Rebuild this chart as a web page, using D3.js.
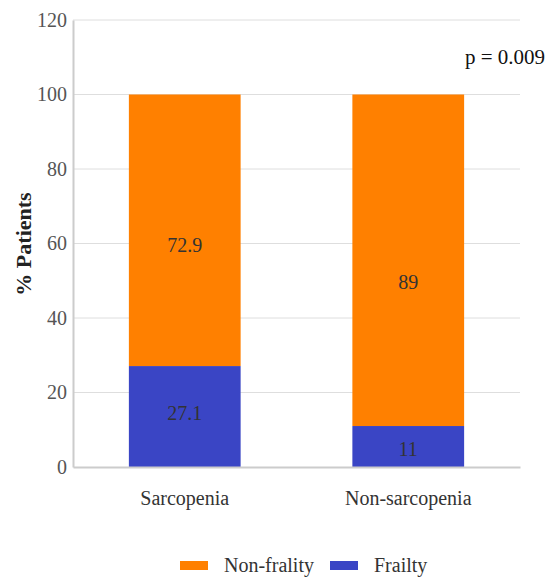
<!DOCTYPE html>
<html>
<head>
<meta charset="utf-8">
<script src="https://cdn.jsdelivr.net/npm/d3@7"></script>
<style>
  body { margin: 0; background: #fff; }
  svg { display: block; }
  svg text { font-family: "Liberation Serif", Tinos, "Times New Roman", Times, "DejaVu Serif", serif; }
</style>
</head>
<body>
<svg id="chart" width="553" height="577"></svg>
<script>
const categories = ["Sarcopenia", "Non-sarcopenia"];
const seriesNames = ["Frailty", "Non-frality"];
const frailty = [27.1, 11];
const nonFrailty = [72.9, 89];
const frailtyLabelAt = [14.5, 4.8];
const nonFrailtyLabelAt = [59.5, 49.7];
const yTicks = [0, 20, 40, 60, 80, 100, 120];
const pValueText = "p = 0.009";
const colors = { "Frailty": "#3A45C5", "Non-frality": "#FF8000" };

const FONT = "'Liberation Serif', Tinos, 'Times New Roman', Times, 'DejaVu Serif', serif";
const svg = d3.select("#chart");
const margin = { left: 73, right: 33, top: 20, bottom: 110 };
const W = 553, H = 577;
const x = d3.scaleBand().domain(categories).range([margin.left, W - margin.right]).paddingInner(0.5).paddingOuter(0.25);
const y = d3.scaleLinear().domain([0, 120]).range([H - margin.bottom, margin.top]);

// gridlines
svg.append("g").selectAll("line").data(yTicks.filter(t => t > 0)).join("line")
  .attr("x1", margin.left).attr("x2", W - margin.right)
  .attr("y1", d => y(d)).attr("y2", d => y(d))
  .attr("stroke", "#dedede").attr("stroke-width", 1);

// stacked data
const rows = categories.map((c, i) => ({ cat: c, "Frailty": frailty[i], "Non-frality": nonFrailty[i] }));
const stack = d3.stack().keys(seriesNames)(rows);
svg.append("g").selectAll("g").data(stack).join("g")
  .attr("fill", d => colors[d.key])
  .selectAll("rect").data(d => d).join("rect")
  .attr("x", d => x(d.data.cat))
  .attr("width", x.bandwidth())
  .attr("y", d => y(d[1]))
  .attr("height", d => y(d[0]) - y(d[1]));

// value labels
const labels = [];
categories.forEach((c, i) => {
  labels.push({ cat: c, v: frailty[i], at: frailtyLabelAt[i] });
  labels.push({ cat: c, v: nonFrailty[i], at: nonFrailtyLabelAt[i] });
});
svg.append("g").selectAll("text").data(labels).join("text")
  .attr("x", d => x(d.cat) + x.bandwidth() / 2)
  .attr("y", d => y(d.at))
  .attr("dy", "0.35em")
  .attr("text-anchor", "middle")
  .attr("font-family", FONT)
  .attr("font-size", 20)
  .attr("fill", "#333")
  .text(d => d.v);

// y axis
const yAxis = svg.append("g").attr("transform", `translate(${margin.left},0)`)
  .call(d3.axisLeft(y).tickValues(yTicks).tickSize(0).tickPadding(6));
yAxis.attr("font-family", FONT);
yAxis.select(".domain").attr("stroke", "#cccccc").attr("stroke-width", 2);
yAxis.selectAll("text").attr("font-size", 20).attr("fill", "#555").attr("font-family", FONT);

// x axis
const xAxis = svg.append("g").attr("transform", `translate(0,${y(0)})`)
  .call(d3.axisBottom(x).tickSize(0).tickPadding(24));
xAxis.attr("font-family", FONT);
xAxis.select(".domain").attr("stroke", "#cccccc").attr("stroke-width", 2);
xAxis.selectAll("text").attr("font-size", 20).attr("fill", "#333").attr("font-family", FONT);

// y title
svg.append("text")
  .attr("transform", `translate(31,${244}) rotate(-90)`)
  .attr("text-anchor", "middle")
  .attr("font-family", FONT)
  .attr("font-size", 22).attr("font-weight", "bold").attr("fill", "#222")
  .text("% Patients");

// p-value
svg.append("text").attr("x", 465).attr("y", 64)
  .attr("font-family", FONT)
  .attr("font-size", 21).attr("fill", "#111").text(pValueText);

// legend
const legendItems = [
  { name: "Non-frality", rx: 180, tx: 224 },
  { name: "Frailty", rx: 330, tx: 374 }
];
const lg = svg.append("g");
lg.selectAll("rect").data(legendItems).join("rect")
  .attr("x", d => d.rx).attr("y", 561).attr("width", 28).attr("height", 9)
  .attr("fill", d => colors[d.name]);
lg.selectAll("text").data(legendItems).join("text")
  .attr("x", d => d.tx).attr("y", 572)
  .attr("font-family", FONT)
  .attr("font-size", 20).attr("fill", "#333").text(d => d.name);
</script>
</body>
</html>
